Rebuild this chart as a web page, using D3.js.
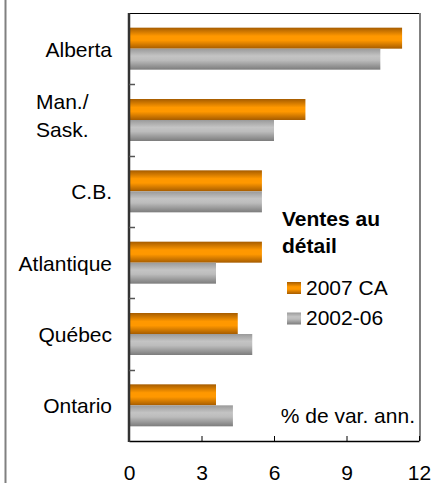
<!DOCTYPE html>
<html>
<head>
<meta charset="utf-8">
<script src="https://cdn.jsdelivr.net/npm/d3@7"></script>
<style>
  body { margin: 0; background: #fff; }
  text { font-family: "Liberation Sans", Arial, sans-serif; fill: #000; }
</style>
</head>
<body>
<div id="chart"></div>
<script>
const categories = ["Alberta", "Man./Sask.", "C.B.", "Atlantique", "Québec", "Ontario"];
const series = ["2007 CA", "2002-06"];
const values2007 = [11.3, 7.3, 5.5, 5.5, 4.5, 3.6];
const values0206 = [10.4, 6.0, 5.5, 3.6, 5.1, 4.3];
const xTicks = [0, 3, 6, 9, 12];

const width = 433, height = 483;
const plot = {left: 129, right: 420, top: 13, bottom: 441};
const fontSize = 21;

const svg = d3.select("#chart").append("svg")
  .attr("width", width)
  .attr("height", height);

const defs = svg.append("defs");

function vGradient(id, stops) {
  const g = defs.append("linearGradient")
    .attr("id", id)
    .attr("x1", 0).attr("y1", 0)
    .attr("x2", 0).attr("y2", 1);
  stops.forEach(s => g.append("stop").attr("offset", s[0]).attr("stop-color", s[1]));
}
vGradient("gOrange", [[0, "#a65c00"], [0.4, "#ff9800"], [0.6, "#ff9800"], [1, "#a65c00"]]);
vGradient("gGrey", [[0, "#9a9a9a"], [0.35, "#c4c4c4"], [0.55, "#bcbcbc"], [1, "#7c7c7c"]]);

const fills = {"2007 CA": "url(#gOrange)", "2002-06": "url(#gGrey)"};

const x = d3.scaleLinear()
  .domain([0, 12])
  .range([plot.left, plot.right - 1]);

const y = d3.scaleBand()
  .domain(categories)
  .range([plot.top, plot.bottom]);

const barH = 21;
const inner = d3.scaleBand()
  .domain(series)
  .range([-barH, barH]);

// outer left rule
svg.append("line")
  .attr("x1", 5.5).attr("x2", 5.5)
  .attr("y1", 0).attr("y2", height)
  .attr("stroke", "#808080").attr("stroke-width", 2);

// frame top and right
svg.append("line")
  .attr("x1", plot.left).attr("x2", plot.right)
  .attr("y1", plot.top + 0.5).attr("y2", plot.top + 0.5)
  .attr("stroke", "#000").attr("stroke-width", 1);
svg.append("line")
  .attr("x1", plot.right).attr("x2", plot.right)
  .attr("y1", plot.top).attr("y2", plot.bottom)
  .attr("stroke", "#808080").attr("stroke-width", 2);

// bars
const rows = categories.map((c, i) => ({cat: c, vals: [values2007[i], values0206[i]]}));

const groups = svg.append("g").selectAll("g")
  .data(rows)
  .join("g")
  .attr("transform", d => "translate(0," + (y(d.cat) + y.bandwidth() / 2) + ")");

groups.selectAll("rect")
  .data(d => d.vals.map((v, j) => ({s: series[j], v: v})))
  .join("rect")
  .attr("x", x(0))
  .attr("y", d => inner(d.s))
  .attr("width", d => x(d.v) - x(0))
  .attr("height", inner.bandwidth())
  .attr("fill", d => fills[d.s]);

// bottom axis
const xAxis = svg.append("g")
  .attr("transform", "translate(0," + plot.bottom + ")")
  .call(d3.axisBottom(x).tickValues(xTicks).tickSizeInner(-5).tickSizeOuter(0));
xAxis.select(".domain").attr("stroke", "#000").attr("stroke-width", 1.5);
xAxis.selectAll(".tick line").attr("stroke", "#000");
xAxis.selectAll(".tick text")
  .attr("y", 39)
  .attr("dy", null)
  .attr("font-size", fontSize)
  .attr("fill", "#000")
  .style("font-family", "'Liberation Sans', Arial, sans-serif");

// left axis
svg.append("line")
  .attr("x1", plot.left).attr("x2", plot.left)
  .attr("y1", plot.top).attr("y2", plot.bottom + 1)
  .attr("stroke", "#333").attr("stroke-width", 2.5);

svg.append("g").selectAll("line")
  .data(categories.slice(1))
  .join("line")
  .attr("x1", plot.left).attr("x2", plot.left + 6)
  .attr("y1", d => Math.round(y(d)) + 0.5)
  .attr("y2", d => Math.round(y(d)) + 0.5)
  .attr("stroke", "#555").attr("stroke-width", 1.5);

// category labels
const labels = svg.append("g");
rows.forEach(d => {
  const cy = y(d.cat) + y.bandwidth() / 2;
  if (d.cat === "Man./Sask.") {
    const t = labels.append("text")
      .attr("font-size", fontSize)
      .attr("text-anchor", "start");
    t.append("tspan").attr("x", 36).attr("y", cy - 11).text("Man./");
    t.append("tspan").attr("x", 36).attr("y", cy + 16.5).text("Sask.");
  } else {
    labels.append("text")
      .attr("x", 112)
      .attr("y", cy + 8)
      .attr("font-size", fontSize)
      .attr("text-anchor", "end")
      .text(d.cat);
  }
});

// legend
const legend = svg.append("g");
legend.append("text")
  .attr("x", 282).attr("y", 226)
  .attr("font-size", fontSize).attr("font-weight", "bold")
  .text("Ventes au");
legend.append("text")
  .attr("x", 282).attr("y", 253)
  .attr("font-size", fontSize).attr("font-weight", "bold")
  .text("détail");

const legendRows = legend.selectAll("g.item")
  .data(series)
  .join("g")
  .attr("class", "item")
  .attr("transform", (d, i) => "translate(287," + (282 + i * 30.5) + ")");
legendRows.append("rect")
  .attr("width", 14).attr("height", 12)
  .attr("fill", d => fills[d]);
legendRows.append("text")
  .attr("x", 19).attr("y", 12.5)
  .attr("font-size", fontSize)
  .text(d => d);

svg.append("text")
  .attr("x", 415).attr("y", 423)
  .attr("font-size", fontSize)
  .attr("text-anchor", "end")
  .text("% de var. ann.");
</script>
</body>
</html>
